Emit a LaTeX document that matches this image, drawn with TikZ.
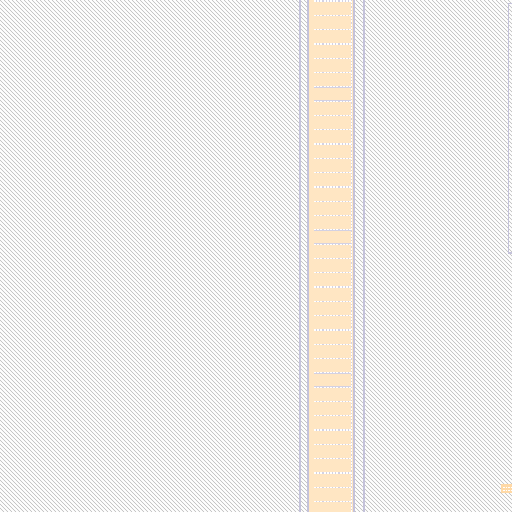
\documentclass[tikz,border=0pt]{standalone}
\definecolor{hatchgray}{HTML}{BABABA}
\definecolor{edgelav}{HTML}{C4C2DA}
\definecolor{bandfill}{HTML}{FFE6C3}
\definecolor{markorange}{HTML}{FFD9A6}

\begin{document}
\begin{tikzpicture}[
    x=1pt, y=-1pt,
    hatch/.style={draw=hatchgray, line width=0.6pt},
    edge/.style={draw=edgelav, line width=1.1pt},
    rungbase/.style={draw=edgelav!75, line width=1.4pt},
    rung/.style={draw=white, line width=1.2pt, dash pattern=on 2pt off 1.2pt}
  ]
    \useasboundingbox (0,0) rectangle (512,512);

    % hatched ground
    \fill[white] (0,0) rectangle (512,512);
    \begin{scope}
      \clip (0,0) rectangle (512,512);
      \foreach \c in {-512,-508,...,512}
        \draw[hatch] (\c,0) -- (\c+512,512);
    \end{scope}

    % band and its edges
    \fill[bandfill] (308.5,-2) rectangle (353.5,514);
    \foreach \x in {300,308,354,364}
      \draw[edge] (\x,-2) -- (\x,514);

    % rungs across the band
    \foreach \k in {0,...,35} {
      \draw[rungbase] (314,1+14.3*\k) -- (351,1+14.3*\k);
      \draw[rung] (314,1+14.3*\k) -- (351,1+14.3*\k);
    }
    \draw[rungbase] (351.5,-2) -- (351.5,514);
    \draw[rung] (351.5,-2) -- (351.5,514);

    % outline at the right edge
    \coordinate (top) at (508.5,3.5);
    \coordinate (bottom) at (508.5,253);
    \draw[edge] (top -| 520,0) -- (top) -- (bottom) -- (bottom -| 520,0);

    % small mark at the lower right
    \fill[markorange] (501,484) rectangle (513,493);
    \draw[draw=white, line width=0.8pt, dash pattern=on 1.5pt off 1pt] (503,487) -- (513,487);
    \draw[draw=white, line width=0.8pt, dash pattern=on 1.5pt off 1pt] (503,490) -- (513,490);

\end{tikzpicture}
\end{document}
